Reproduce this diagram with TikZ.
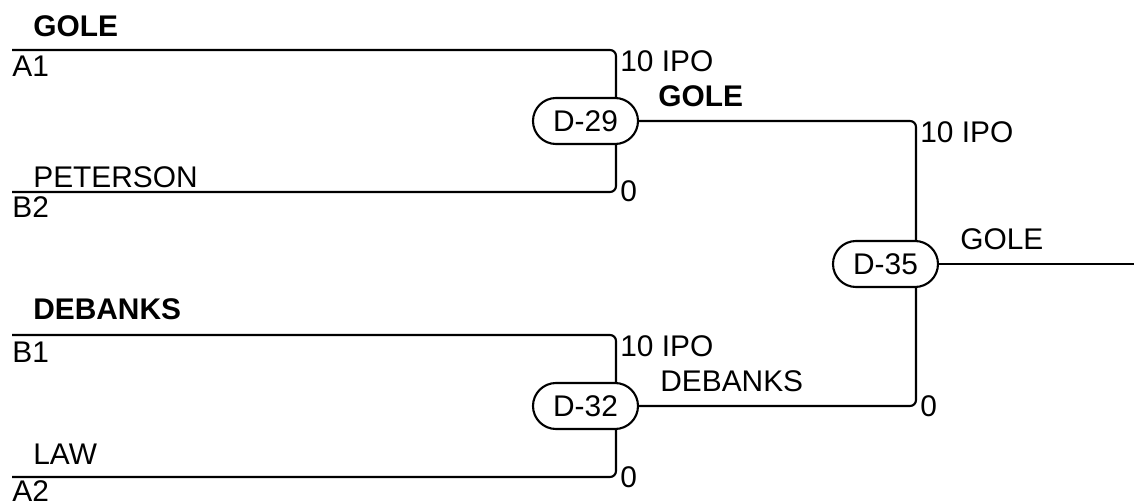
\documentclass[tikz,border=0pt]{standalone}
\usepackage{fontspec}
\setmainfont{Liberation Sans}
\usepackage{tikz}
\usetikzlibrary{positioning, shapes.misc}

\begin{document}
\begin{tikzpicture}[
    match/.style={rounded rectangle, draw, line width=1.2pt, minimum width=2.1cm,
        minimum height=0.92cm, inner sep=0pt, font=\fontsize{17}{20}\selectfont},
    lbl/.style={anchor=base west, inner sep=0pt, font=\fontsize{17}{20}\selectfont},
    wire/.style={line width=1.2pt, rounded corners=1.2mm}
]
\useasboundingbox (0,0) rectangle (22.68,-10.08);

\coordinate (A1) at (0.24,-1.0);
\coordinate (B2) at (0.24,-3.84);
\coordinate (B1) at (0.24,-6.7);
\coordinate (A2) at (0.24,-9.54);
\coordinate (Out) at (22.68,-5.28);

\node[match] (D29) at (11.71,-2.42) {D-29};
\node[match] (D32) at (11.71,-8.12) {D-32};
\node[match] (D35) at (17.71,-5.28) {D-35};

\draw[wire] (A1) -| ([xshift=6.1mm]D29.north);
\draw[wire] (B2) -| ([xshift=6.1mm]D29.south);
\draw[wire] (B1) -| ([xshift=6.1mm]D32.north);
\draw[wire] (A2) -| ([xshift=6.1mm]D32.south);
\draw[wire] (D29.east) -| ([xshift=6.1mm]D35.north);
\draw[wire] (D32.east) -| ([xshift=6.1mm]D35.south);
\draw[wire] (D35.east) -- (Out);

\node[lbl] (nGole) at (0.66,-0.74) {\bfseries GOLE};
\node[lbl] (nA1) at (0.24,-1.54) {A1};
\node[lbl] (nPeterson) at (0.66,-3.76) {PETERSON};
\node[lbl] (nB2) at (0.24,-4.36) {B2};
\node[lbl] (nDebanks) at (0.66,-6.40) {\bfseries DEBANKS};
\node[lbl] (nB1) at (0.24,-7.26) {B1};
\node[lbl] (nLaw) at (0.66,-9.30) {LAW};
\node[lbl] (nA2) at (0.24,-10.03) {A2};

\node[lbl] (s29a) at (12.4,-1.44) {10 IPO};
\node[lbl] (s29b) at (12.4,-4.04) {0};
\node[lbl] (w29) at (13.16,-2.14) {\bfseries GOLE};
\node[lbl] (s32a) at (12.4,-7.14) {10 IPO};
\node[lbl] (s32b) at (12.4,-9.74) {0};
\node[lbl] (w32) at (13.2,-7.84) {DEBANKS};
\node[lbl] (s35a) at (18.4,-2.86) {10 IPO};
\node[lbl] (s35b) at (18.4,-8.34) {0};
\node[lbl] (w35) at (19.2,-5.0) {GOLE};
\end{tikzpicture}
\end{document}
